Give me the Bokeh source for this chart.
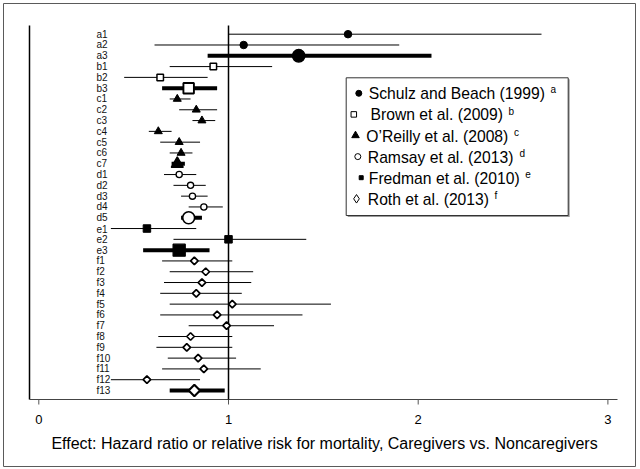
from bokeh.plotting import figure
from bokeh.models import Range1d, ColumnDataSource
from bokeh.core.properties import value
from bokeh.embed import file_html
from bokeh.resources import INLINE
import math

# ---------------- data ----------------
labels = ["a1", "a2", "a3", "b1", "b2", "b3",
          "c1", "c2", "c3", "c4", "c5", "c6", "c7",
          "d1", "d2", "d3", "d4", "d5",
          "e1", "e2", "e3",
          "f1", "f2", "f3", "f4", "f5", "f6", "f7", "f8", "f9", "f10", "f11", "f12", "f13"]
effect = [1.63, 1.08, 1.37, 0.92, 0.64, 0.79,
          0.73, 0.83, 0.86, 0.63, 0.74, 0.75, 0.73,
          0.74, 0.80, 0.81, 0.87, 0.79,
          0.57, 1.00, 0.74,
          0.82, 0.88, 0.86, 0.83, 1.02, 0.94, 0.99, 0.80, 0.78, 0.84, 0.87, 0.57, 0.82]
lower = [1.00, 0.61, 0.89, 0.69, 0.45, 0.65,
         0.69, 0.74, 0.81, 0.58, 0.64, 0.69, 0.70,
         0.66, 0.71, 0.75, 0.79, 0.75,
         0.38, 0.71, 0.55,
         0.65, 0.69, 0.66, 0.64, 0.69, 0.64, 0.79, 0.63, 0.62, 0.68, 0.65, 0.38, 0.69]
upper = [2.65, 1.90, 2.07, 1.23, 0.89, 0.94,
         0.80, 0.94, 0.93, 0.70, 0.85, 0.81, 0.77,
         0.83, 0.88, 0.89, 0.97, 0.86,
         0.83, 1.41, 0.90,
         1.02, 1.13, 1.12, 1.07, 1.54, 1.39, 1.24, 1.02, 1.02, 1.04, 1.17, 0.85, 0.98]
study = ["a"] * 3 + ["b"] * 3 + ["c"] * 7 + ["d"] * 5 + ["e"] * 3 + ["f"] * 13
pooled = ["a3", "b3", "c7", "d5", "e3", "f13"]

legend_names = ["Schulz and Beach (1999)", "Brown et al. (2009)",
                "O\u2019Reilly et al. (2008)", "Ramsay et al. (2013)",
                "Fredman et al. (2010)", "Roth et al. (2013)"]
legend_notes = ["a", "b", "c", "d", "e", "f"]
x_ticks = [0, 1, 2, 3]
x_tick_labels = ["0", "1", "2", "3"]
x_title = "Effect: Hazard ratio or relative risk for mortality, Caregivers vs. Noncaregivers"

# ---------------- geometry helpers (page px -> data) ----------------
X0, XS = 38.3, 189.7
Y0, YS = 33.7, 10.797


def xd(px):
    return (px - X0) / XS


def yd(py):
    return (py - Y0) / YS


rows = list(range(len(labels)))

# the frame is the outer picture box; its outline is the picture border
W, H = 639, 468
p = figure(width=W, height=H,
           x_range=Range1d(xd(3), xd(635)), y_range=Range1d(yd(466), yd(3)),
           min_border_left=3, min_border_right=W - 635, min_border_top=3,
           min_border_bottom=H - 466,
           x_axis_location=None, y_axis_location=None,
           output_backend="svg", toolbar_location=None)
p.outline_line_color = "#5a5a5a"
p.outline_line_width = 1
p.xgrid.visible = False
p.ygrid.visible = False
p.background_fill_color = "white"
p.border_fill_color = "white"

FONT = value("Liberation Sans")
PLOT_L, PLOT_R, PLOT_T, PLOT_B = 29, 617, 25, 399

# ---------------- axes ----------------
# vertical axis line (no ticks)
p.segment(x0=[xd(PLOT_L)], y0=[yd(PLOT_T)], x1=[xd(PLOT_L)], y1=[yd(PLOT_B)],
          line_color="black", line_width=1.5)
# horizontal axis line, ticks, tick labels, title
p.segment(x0=[xd(PLOT_L)], y0=[yd(PLOT_B)], x1=[xd(PLOT_R)], y1=[yd(PLOT_B)],
          line_color="#444444", line_width=1)
p.segment(x0=x_ticks, y0=[yd(PLOT_B)] * len(x_ticks), x1=x_ticks,
          y1=[yd(PLOT_B + 5)] * len(x_ticks), line_color="#555555", line_width=1)
p.text(x=x_ticks, y=[yd(419.3)] * len(x_ticks), text=x_tick_labels, text_font=FONT,
       text_font_size="13px", text_align="center", text_baseline="middle",
       text_color="black")
p.text(x=[xd(324)], y=[yd(443.0)], text=[x_title], text_font=FONT,
       text_font_size="16px", text_align="center", text_baseline="middle",
       text_color="black")

# reference line at 1
p.segment(x0=[1], y0=[yd(PLOT_T)], x1=[1], y1=[yd(PLOT_B)],
          line_color="black", line_width=1.5)

# ---------------- CI lines ----------------
thin = [i for i in rows if labels[i] not in pooled]
thick = [i for i in rows if labels[i] in pooled]
p.segment(x0=[lower[i] for i in thin], y0=[rows[i] for i in thin],
          x1=[upper[i] for i in thin], y1=[rows[i] for i in thin],
          line_color="black", line_width=1)
p.segment(x0=[lower[i] for i in thick], y0=[rows[i] for i in thick],
          x1=[upper[i] for i in thick], y1=[rows[i] for i in thick],
          line_color="black", line_width=4, line_cap="butt")

# marker styles per study: (marker, fill, line width, size, pooled size, angle)
styles = {
    "a": ("circle", "black", 1, 7.5, 12.5, 0),
    "b": ("square", "white", 1.5, 6.5, 10.5, 0),
    "c": ("triangle", "black", 1, 8, 12, 0),
    "d": ("circle", "white", 1.3, 6.2, 12, 0),
    "e": ("square", "black", 1, 7.5, 12, 0),
    "f": ("square", "white", 1.7, 5.3, 8.0, math.pi / 4),
}
for s, (mk, fill, lw, sz, psz, ang) in styles.items():
    idx = [i for i in rows if study[i] == s]
    src = ColumnDataSource(dict(
        x=[effect[i] for i in idx], y=[rows[i] for i in idx],
        size=[psz if labels[i] in pooled else sz for i in idx],
        lw=[lw + (0.4 if labels[i] in pooled else 0) for i in idx]))
    p.scatter(x="x", y="y", size="size", source=src, marker=mk, fill_color=fill,
              line_color="black", line_width="lw", angle=ang)

# row labels
p.text(x=[xd(96)] * len(labels), y=rows, text=labels, text_font=FONT,
       text_font_size="10px", text_baseline="middle", text_align="left", text_color="#111111")

# ---------------- legend ----------------
p.quad(left=[xd(347.2)], right=[xd(569.2)], top=[yd(78.8)], bottom=[yd(216.6)],
       fill_color="#9a9a9a", line_color=None)
p.quad(left=[xd(345.7)], right=[xd(567.7)], top=[yd(77.3)], bottom=[yd(215.0)],
       fill_color="white", line_color="#333333", line_width=1)

row_y = [92.8 + 21.1 * k for k in range(6)]
sym_x = [358.3, 353.3, 355.0, 357.3, 360.7, 356.0]
sym_mk = ["circle", "square", "triangle", "circle", "square", "diamond"]
sym_fill = ["black", "white", "black", "white", "black", "white"]
sym_size = [6, 5.5, 7.5, 6, 4, 8.5]
for k in range(6):
    p.scatter(x=[xd(sym_x[k])], y=[yd(row_y[k])], marker=sym_mk[k], size=sym_size[k],
              fill_color=sym_fill[k], line_color="black", line_width=1)

txt_x = [368.3, 370.0, 365.7, 367.3, 368.3, 367.3]
p.text(x=[xd(v) for v in txt_x], y=[yd(v + 0.5) for v in row_y], text=legend_names,
       text_font=FONT, text_font_size="15.7px", text_baseline="middle",
       text_align="left", text_color="black")
sup_x = [550.0, 508.0, 513.5, 519.0, 524.8, 494.0]
p.text(x=[xd(v) for v in sup_x], y=[yd(v - 3.4) for v in row_y], text=legend_notes,
       text_font=FONT, text_font_size="10px", text_baseline="middle",
       text_align="left", text_color="black")

open("out.html", "w").write(file_html(p, INLINE))
